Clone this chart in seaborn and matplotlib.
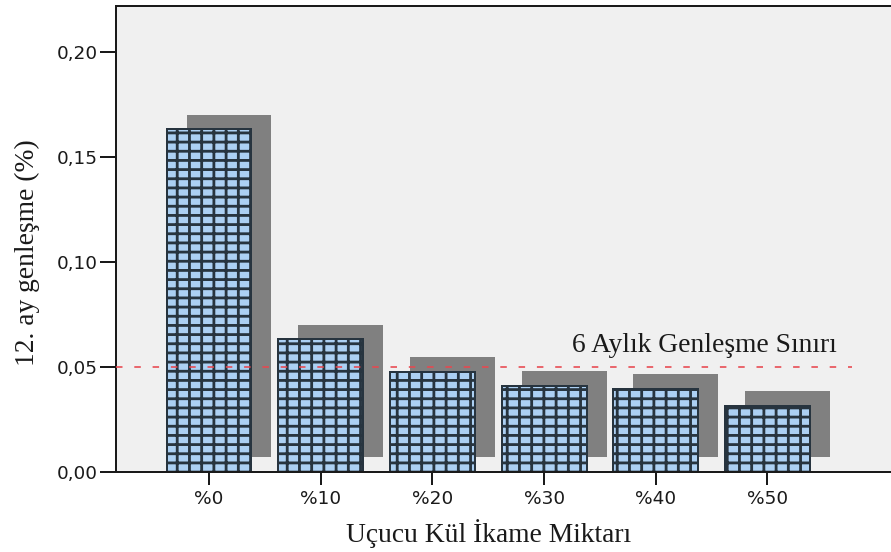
import numpy as np
import pandas as pd
import matplotlib
matplotlib.use("Agg")
import matplotlib.pyplot as plt
import seaborn as sns

# Data
categories = ["%0", "%10", "%20", "%30", "%40", "%50"]
expansion = [0.163, 0.063, 0.0476, 0.041, 0.0394, 0.0314]
y_ticks = [0.00, 0.05, 0.10, 0.15, 0.20]
y_tick_labels = ["0,00", "0,05", "0,10", "0,15", "0,20"]
limit_value = 0.05
limit_label = "6 Aylık Genleşme Sınırı"
x_title = "Uçucu Kül İkame Miktarı"
y_title = "12. ay genleşme (%)"

DPI = 220
W, H = 891, 552


def pt(px):
    """Convert a pixel size to points at the output resolution."""
    return px * 72 / DPI


sns.set_style("white")
plt.rcParams["font.family"] = ["DejaVu Sans"]
plt.rcParams["hatch.linewidth"] = pt(2.8)
plt.rcParams["lines.scale_dashes"] = False

SERIF = ["Liberation Serif", "DejaVu Serif"]
SERIF_SIZE = pt(27.5)
TICK_SIZE = pt(18.5)

fig = plt.figure(figsize=(W / DPI, H / DPI), dpi=DPI)
ax = fig.add_axes([116 / W, (H - 471.7) / H, 1 - 116 / W, (471.7 - 6) / H])
ax.set_facecolor("#f0f0f0")

df = pd.DataFrame({"cat": categories, "val": expansion})
bar_w = 0.76

# drop shadow behind every bar
x_pos = np.arange(len(categories))
ax.bar(x_pos + 0.179, df["val"], width=bar_w, bottom=0.0069,
       color="#808080", linewidth=0, zorder=1)

sns.barplot(data=df, x="cat", y="val", ax=ax, color="#acd0f3", saturation=1,
            width=bar_w, edgecolor="#27343f", linewidth=pt(2),
            hatch="|||----", errorbar=None, zorder=2)

x_left, x_right = -0.8326, 6.106
ax.set_xlim(x_left, x_right)
ax.set_ylim(0, 0.2218)

# reference limit line
ax.plot([x_left, 5.757], [limit_value, limit_value], color="#e8474f",
        linewidth=pt(1.6), dashes=(pt(6.5), pt(11.8)), zorder=3)
ax.text(4.436, 0.0570, limit_label, ha="center", va="baseline",
        family=SERIF, fontsize=SERIF_SIZE, color="#1a1a1a", zorder=4)

ax.set_yticks(y_ticks, y_tick_labels)
ax.set_xlabel("")
ax.set_ylabel("")
ax.tick_params(axis="y", left=True, length=pt(16), width=pt(2), pad=pt(2),
               labelsize=TICK_SIZE, colors="#1a1a1a", direction="out")
ax.tick_params(axis="x", bottom=True, length=pt(13), width=pt(2), pad=pt(5),
               labelsize=TICK_SIZE, colors="#1a1a1a", direction="out")

for side in ["left", "top", "bottom"]:
    ax.spines[side].set_visible(True)
    ax.spines[side].set_linewidth(pt(2))
    ax.spines[side].set_color("#1a1a1a")
ax.spines["right"].set_visible(False)

fig.text(489 / W, 1 - 542 / H, x_title, ha="center", va="baseline",
         family=SERIF, fontsize=SERIF_SIZE, color="#1a1a1a")
fig.text(27.5 / W, 1 - 253 / H, y_title, ha="center", va="center",
         rotation=90, family=SERIF, fontsize=SERIF_SIZE, color="#1a1a1a")

fig.savefig("out.png", dpi=DPI)
